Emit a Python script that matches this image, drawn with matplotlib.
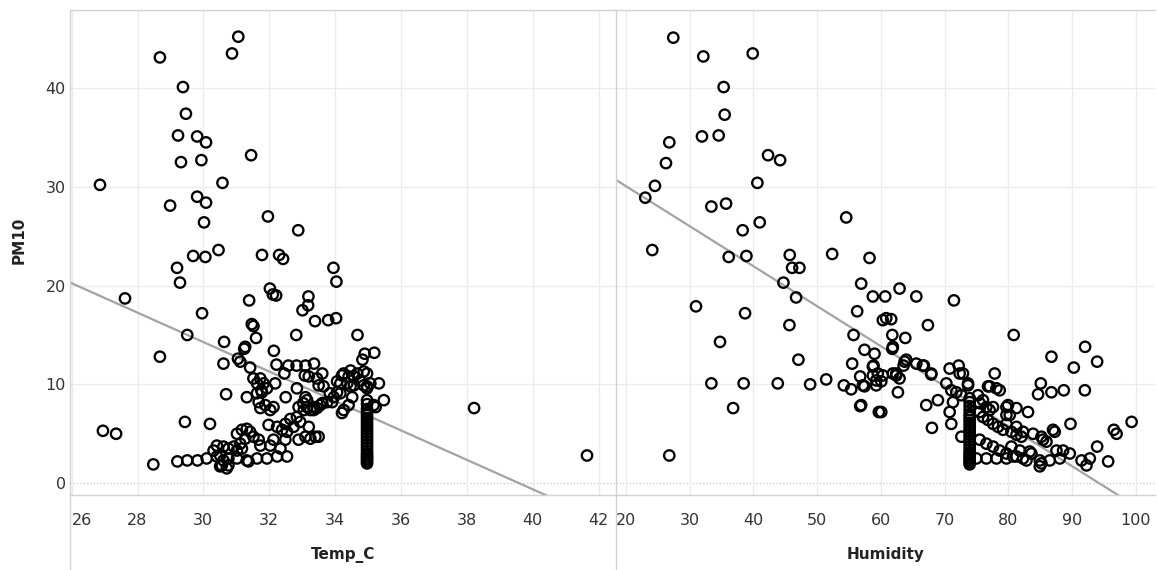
import matplotlib.pyplot as plt
from matplotlib.lines import Line2D
import numpy as np

# ---- data (Temp_C panel) ----
temp_upper = [
    (28.68, 43.1), (31.06, 45.2), (30.87, 43.5), (29.38, 40.1), (29.47, 37.4),
    (29.23, 35.2), (29.81, 35.1), (30.08, 34.5), (29.32, 32.5), (31.45, 33.2),
    (29.94, 32.7), (30.58, 30.4), (26.86, 30.2), (28.99, 28.1), (29.81, 29.0),
    (30.08, 28.4), (30.02, 26.4), (31.96, 27.0), (30.46, 23.6), (29.69, 23.0),
    (30.06, 22.9), (32.88, 25.6), (31.78, 23.1), (32.30, 23.1), (32.42, 22.7),
    (29.20, 21.8), (29.29, 20.3), (33.95, 21.8), (34.04, 20.4), (27.62, 18.7),
    (32.02, 19.7), (32.11, 19.1), (32.21, 19.0), (31.39, 18.5), (33.19, 18.9),
    (33.18, 18.0), (33.01, 17.5), (33.39, 16.4), (33.79, 16.5), (34.03, 16.7),
    (29.96, 17.2), (31.47, 16.1), (31.52, 15.9), (31.60, 14.7), (29.51, 15.0),
    (32.82, 15.0), (34.68, 15.0), (28.68, 12.8), (30.63, 14.3), (31.27, 13.8),
    (31.24, 13.6), (32.14, 13.4), (35.19, 13.2), (34.90, 13.1), (31.05, 12.6),
    (31.12, 12.3), (30.61, 12.1), (31.42, 11.7), (34.83, 12.5),
]
temp_band = [
    (32.22, 12.0), (32.58, 11.9), (32.83, 11.9), (33.10, 11.9), (33.36, 12.1),
    (33.61, 11.1), (32.46, 11.1), (33.08, 10.9), (33.20, 10.8), (33.45, 10.6),
    (33.50, 9.9), (33.65, 9.8), (31.52, 10.6), (31.63, 10.1), (31.73, 10.6),
    (31.83, 10.1), (31.76, 9.4), (31.93, 9.6), (31.78, 9.2), (31.63, 9.1),
    (31.32, 8.7), (31.68, 8.2), (31.88, 7.9), (32.03, 7.4), (31.73, 7.6),
    (32.13, 7.7), (32.18, 10.1), (30.69, 9.0), (32.50, 8.7), (32.84, 9.6),
    (33.10, 8.7), (33.15, 7.7), (32.89, 7.7), (33.03, 8.1), (33.35, 7.4),
    (33.61, 8.1), (33.91, 8.2), (33.84, 9.1), (34.21, 10.9), (34.41, 10.8),
    (34.57, 10.8), (34.67, 11.1), (34.77, 10.4), (34.37, 10.1), (34.16, 10.1),
    (34.57, 9.9), (34.47, 9.8), (34.87, 9.9), (34.97, 11.1), (35.07, 10.1),
    (35.33, 10.1), (34.97, 9.6), (35.17, 7.9), (34.21, 7.1), (34.41, 7.9),
    (34.06, 10.3), (34.06, 9.2), (34.26, 11.1), (34.47, 11.4), (34.87, 11.3),
    (34.52, 8.7), (34.26, 7.4), (35.23, 7.7), (35.48, 8.4), (33.15, 8.4),
    (33.35, 7.7), (33.55, 7.9), (33.76, 8.2), (33.96, 8.7), (34.16, 9.1),
]
temp_low = [
    (29.44, 6.2), (30.20, 6.0), (26.95, 5.3), (27.35, 5.0), (28.48, 1.9),
    (38.22, 7.6), (41.65, 2.8), (29.21, 2.2), (29.51, 2.3), (29.82, 2.3),
    (30.10, 2.5), (30.41, 2.7), (30.56, 1.8), (30.71, 1.5), (31.98, 5.9),
    (32.24, 5.7), (32.49, 6.0), (32.64, 6.5), (32.84, 6.7), (33.05, 7.4),
    (33.25, 7.4), (33.45, 7.6), (32.39, 5.4), (32.54, 5.2), (32.74, 5.7),
    (32.94, 6.2), (33.20, 5.7), (33.50, 4.7), (33.25, 4.5), (32.89, 4.4),
    (32.49, 4.4), (33.10, 4.7), (33.40, 4.7), (31.02, 5.0), (31.17, 5.4),
    (31.32, 5.5), (31.42, 5.2), (31.52, 4.7), (31.68, 4.4), (31.27, 4.5),
    (31.12, 4.0), (30.92, 3.7), (30.76, 3.5), (30.61, 3.7), (30.41, 3.8),
    (30.31, 3.3), (30.51, 2.8), (30.61, 2.3), (30.76, 2.5), (31.02, 2.5),
    (31.32, 2.3), (31.63, 2.5), (31.93, 2.5), (32.24, 2.7), (32.54, 2.7),
    (30.51, 1.7), (30.76, 1.8), (31.37, 2.2), (31.02, 3.3), (31.17, 3.5),
    (31.73, 3.8), (32.03, 3.8), (32.13, 4.4), (32.34, 3.5),
]
# stacked column of readings at Temp_C = 35
temp_col = 34.97
temp_col_pm10 = [2.0, 2.2, 2.4, 2.6, 2.8, 3.0, 3.3, 3.6, 3.9, 4.2, 4.5, 4.8,
                 5.1, 5.4, 5.7, 6.0, 6.3, 6.6, 6.9, 7.2, 7.5, 8.0, 8.4, 9.8]

# ---- data (Humidity panel) ----
hum_upper = [
    (27.42, 45.1), (32.13, 43.2), (39.88, 43.5), (35.32, 40.1), (35.48, 37.3),
    (31.92, 35.1), (34.54, 35.2), (26.79, 34.5), (26.27, 32.4), (42.29, 33.2),
    (44.18, 32.7), (40.61, 30.4), (24.54, 30.1), (23.02, 28.9), (33.39, 28.0),
    (35.70, 28.3), (40.98, 26.4), (38.30, 25.6), (54.55, 26.9), (24.12, 23.6),
    (36.11, 22.9), (38.89, 23.0), (45.69, 23.1), (52.35, 23.2), (58.21, 22.8),
    (46.06, 21.8), (47.21, 21.8), (44.70, 20.3), (46.69, 18.8), (30.98, 17.9),
    (38.68, 17.2), (45.64, 16.0), (34.75, 14.3), (47.05, 12.5), (33.39, 10.1),
    (38.46, 10.1), (43.81, 10.1), (48.89, 10.0), (51.41, 10.5), (36.80, 7.6),
    (26.79, 2.8), (56.90, 20.2), (58.73, 18.9), (60.67, 18.9), (62.92, 19.7),
    (65.55, 18.9), (56.27, 17.4), (60.30, 16.5), (60.83, 16.7), (61.61, 16.6),
    (55.70, 15.0), (61.78, 15.0), (63.82, 14.7), (71.45, 18.5), (67.37, 16.0),
]
hum_mid = [
    (57.42, 13.5), (58.99, 13.1), (61.78, 13.6), (55.49, 12.1), (58.84, 11.9),
    (63.97, 12.5), (63.55, 11.9), (65.55, 12.1), (56.74, 10.8), (58.73, 10.9),
    (59.51, 11.1), (60.30, 10.9), (60.05, 10.3), (59.26, 9.9), (57.42, 9.8),
    (55.33, 9.5), (54.17, 9.9), (62.40, 10.9), (62.92, 10.6), (62.66, 9.2),
    (56.74, 7.8), (59.67, 7.2), (66.74, 11.9), (67.90, 11.0), (58.73, 11.8),
    (59.26, 10.4), (61.87, 11.1), (57.16, 9.9), (56.90, 7.9), (67.11, 7.9),
    (68.94, 8.4), (68.00, 5.6), (70.78, 11.6), (72.19, 11.9), (72.35, 11.1),
    (72.87, 11.1), (73.66, 10.1), (70.26, 10.1), (71.04, 9.4), (71.83, 9.2),
    (72.62, 8.9), (71.30, 8.2), (70.78, 7.2), (71.04, 6.0), (72.62, 4.7),
    (73.66, 9.9), (63.71, 12.3), (66.58, 11.9), (67.90, 11.1), (60.05, 7.2),
    (61.87, 13.8), (62.40, 11.1),
]
hum_right = [
    (75.22, 8.9), (76.01, 8.4), (75.49, 8.1), (76.54, 7.7), (77.06, 7.4),
    (77.85, 11.1), (77.06, 9.8), (78.12, 9.6), (78.63, 9.4), (76.80, 9.8),
    (79.94, 7.9), (81.26, 7.6), (83.08, 7.2), (79.69, 6.9), (75.49, 7.2),
    (76.01, 6.7), (76.80, 6.4), (77.59, 6.0), (78.37, 5.7), (79.16, 5.4),
    (80.47, 5.2), (81.26, 4.9), (82.04, 4.7), (75.49, 4.4), (76.54, 4.0),
    (77.59, 3.7), (78.63, 3.3), (79.69, 3.0), (80.73, 2.7), (82.30, 2.5),
    (83.34, 3.2), (83.87, 5.0), (85.43, 4.4), (87.00, 5.4), (84.92, 1.7),
    (86.49, 2.3), (87.54, 3.3), (77.59, 7.7), (79.69, 7.7), (80.21, 6.9),
    (79.69, 6.0), (81.26, 5.7), (82.30, 5.2), (85.18, 4.7), (85.97, 4.2),
    (87.27, 5.2), (89.74, 6.0), (88.58, 3.3), (89.63, 3.0), (88.06, 2.5),
    (84.92, 2.3), (82.83, 2.3), (81.26, 2.7), (79.69, 2.5), (78.12, 2.5),
    (76.54, 2.5), (74.97, 2.5), (80.47, 3.7), (81.78, 3.3), (83.61, 3.0),
    (85.18, 2.0), (91.47, 2.3), (92.77, 2.5), (93.92, 3.7), (95.65, 2.2),
    (92.25, 1.8), (96.54, 5.4), (96.97, 5.0), (99.33, 6.2), (80.83, 15.0),
    (86.75, 12.8), (90.26, 11.7), (92.03, 13.8), (93.92, 12.3), (85.08, 10.1),
    (84.65, 9.0), (86.75, 9.2), (88.69, 9.4), (91.99, 9.4),
]
# stacked column of readings at Humidity = 74
hum_col = 73.92
hum_col_pm10 = [1.9, 2.1, 2.3, 2.5, 2.7, 2.9, 3.1, 3.4, 3.7, 4.0, 4.3, 4.6,
                4.9, 5.2, 5.5, 5.8, 6.1, 6.4, 6.7, 7.0, 7.4, 7.8, 8.2, 8.6]

# linear trend lines (slope, intercept)
temp_trend = (-1.49, 58.98)
hum_trend = (-0.405, 38.16)

temp_ticks = [26, 28, 30, 32, 34, 36, 38, 40, 42]
hum_ticks = [20, 30, 40, 50, 60, 70, 80, 90, 100]
pm_ticks = [0, 10, 20, 30, 40]

# ---- figure ----
W, H = 1157, 570
fig = plt.figure(figsize=(W / 100, H / 100), dpi=100)


def px_axes(x0, y0, x1, y1):
    return fig.add_axes([x0 / W, 1 - y1 / H, (x1 - x0) / W, (y1 - y0) / H])


ax1 = px_axes(70, 10, 616, 495)
ax2 = px_axes(616, 10, 1155, 495)

grid_c = "#ececec"
line_c = "#d2d2d2"


def split(pts):
    return [p[0] for p in pts], [p[1] for p in pts]


def style(ax, xlim, ticks):
    ax.set_xlim(*xlim)
    ax.set_ylim(-1.2, 47.9)
    ax.set_xticks(ticks)
    ax.set_yticks(pm_ticks)
    for s in ax.spines.values():
        s.set_visible(False)
    ax.grid(axis="x", color=grid_c, lw=1)
    for v in pm_ticks[1:]:
        ax.axhline(v, color=grid_c, lw=1, zorder=0)
    ax.axhline(0, color="#bdbdbd", lw=0.8, ls=(0, (1, 2)), zorder=0)
    ax.set_axisbelow(True)
    ax.tick_params(length=0, labelsize=11.5, colors="#333333")
    ax.tick_params(axis="x", pad=13)
    ax.tick_params(axis="y", pad=3)


style(ax1, (25.95, 42.53), temp_ticks)
style(ax2, (18.43, 103.0), hum_ticks)
ax2.tick_params(axis="y", labelleft=False)

# scatter
mk = dict(s=56, facecolors="none", edgecolors="black", linewidths=1.65, zorder=3)
for grp in (temp_upper, temp_band, temp_low):
    x, y = split(grp)
    ax1.scatter(x, y, **mk)
ax1.scatter([temp_col] * len(temp_col_pm10), temp_col_pm10, **mk)

for grp in (hum_upper, hum_mid, hum_right):
    x, y = split(grp)
    ax2.scatter(x, y, **mk)
ax2.scatter([hum_col] * len(hum_col_pm10), hum_col_pm10, **mk)

# trend lines
for ax, (m, b) in ((ax1, temp_trend), (ax2, hum_trend)):
    xs = np.array(ax.get_xlim())
    ax.plot(xs, b + m * xs, color="#a3a3a3", lw=1.6, zorder=2)
    ax.set_xlim(*xs)

ax1.get_xticklabels()[0].set_horizontalalignment("left")

# axis titles
ax1.set_ylabel("PM10", fontweight="bold", fontsize=11, color="#222222")
ax1.yaxis.set_label_coords((27 - 70) / 546, 0.525)
ax1.set_xlabel("Temp_C", fontweight="bold", fontsize=11, color="#222222")
ax1.xaxis.set_label_coords(0.5, -(547 - 495) / 485)
ax2.set_xlabel("Humidity", fontweight="bold", fontsize=11, color="#222222")
ax2.xaxis.set_label_coords(0.5, -(547 - 495) / 485)

# tableau-like frame lines
def fig_line(x0, y0, x1, y1):
    fig.add_artist(Line2D([x0 / W, x1 / W], [1 - y0 / H, 1 - y1 / H],
                          transform=fig.transFigure, color=line_c, lw=1))


fig_line(70, 10, 1155, 10)
fig_line(70, 495, 1155, 495)
fig_line(70, 10, 70, 570)
fig_line(616, 10, 616, 570)

fig.savefig("out.png", dpi=100)
